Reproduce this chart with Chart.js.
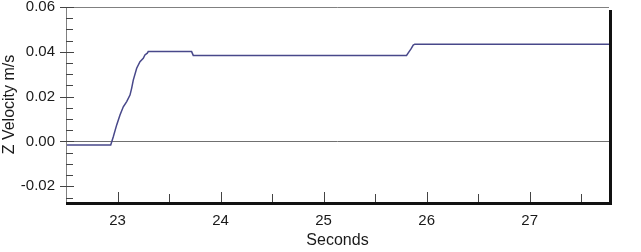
<!DOCTYPE html>
<html>
<head>
<meta charset="utf-8">
<script src="https://cdn.jsdelivr.net/npm/chart.js@4/dist/chart.umd.min.js"></script>
<style>
  html, body { margin: 0; padding: 0; background: #fff; }
  canvas { display: block; }
</style>
</head>
<body>
<canvas id="chart" width="641" height="252"></canvas>
<script>
// z velocity trace
const times = [22.5, 22.934, 22.959, 22.992, 23.024, 23.056, 23.089, 23.121, 23.137, 23.153,
  23.186, 23.218, 23.250, 23.266, 23.289, 23.298, 23.719, 23.735, 25.805, 25.830,
  25.847, 25.870, 25.885, 27.77];
const zVelocity = [-0.0016, -0.0016, 0.0021, 0.0074, 0.0118, 0.0155, 0.0178, 0.0207, 0.0237, 0.0274,
  0.0327, 0.0356, 0.0371, 0.0386, 0.0394, 0.0401, 0.0401, 0.0384, 0.0384, 0.0401,
  0.0412, 0.0430, 0.0434, 0.0434];

const xLabels = [23, 24, 25, 26, 27];
const xMinor = [23.5, 24.5, 25.5, 26.5, 27.5];
const yLabels = [-0.02, 0, 0.02, 0.04, 0.06];
const yMinor = [-0.025, -0.015, -0.01, -0.005, 0.005, 0.01, 0.015, 0.025, 0.03, 0.035, 0.045, 0.05, 0.055];

const isIn = (arr, v) => arr.some(a => Math.abs(a - v) < 1e-9);

const frame = {
  id: 'frame',
  afterDraw(chart) {
    const {ctx, chartArea: a, scales: {x, y}} = chart;
    ctx.save();
    // top + left thin lines
    ctx.strokeStyle = '#808080';
    ctx.lineWidth = 1;
    ctx.beginPath();
    ctx.moveTo(a.left + 0.5, a.bottom);
    ctx.lineTo(a.left + 0.5, a.top + 0.5);
    ctx.lineTo(a.right, a.top + 0.5);
    ctx.stroke();

    // ticks
    ctx.strokeStyle = '#444';
    ctx.beginPath();
    yLabels.forEach(v => {
      const p = Math.round(y.getPixelForValue(v)) + 0.5;
      ctx.moveTo(a.left - 6, p); ctx.lineTo(a.left + 8, p);
    });
    yMinor.forEach(v => {
      const p = Math.round(y.getPixelForValue(v)) + 0.5;
      ctx.moveTo(a.left, p); ctx.lineTo(a.left + 7, p);
    });
    xLabels.forEach(v => {
      const p = Math.round(x.getPixelForValue(v)) + 0.5;
      ctx.moveTo(p, a.bottom + 2); ctx.lineTo(p, a.bottom - 10);
    });
    xMinor.forEach(v => {
      const p = Math.round(x.getPixelForValue(v)) + 0.5;
      ctx.moveTo(p, a.bottom); ctx.lineTo(p, a.bottom - 8);
    });
    ctx.stroke();

    // heavy black bottom / right edge
    ctx.strokeStyle = '#111';
    ctx.lineWidth = 3;
    ctx.beginPath();
    ctx.moveTo(a.left, a.bottom + 1.5);
    ctx.lineTo(a.right + 1.5, a.bottom + 1.5);
    ctx.lineTo(a.right + 1.5, a.top + 3);
    ctx.stroke();
    ctx.restore();
  }
};

new Chart(document.getElementById('chart'), {
  type: 'line',
  data: {
    datasets: [{
      data: times.map((t, i) => ({x: t, y: zVelocity[i]})),
      borderColor: '#48488a',
      borderWidth: 1.5,
      pointRadius: 0,
      tension: 0,
      fill: false
    }]
  },
  options: {
    responsive: false,
    animation: false,
    devicePixelRatio: 1,
    layout: {padding: {top: 7, right: 32, left: 0, bottom: 0}},
    plugins: {legend: {display: false}, tooltip: {enabled: false}},
    scales: {
      x: {
        type: 'linear',
        min: 22.5,
        max: 27.77,
        afterBuildTicks: s => { s.ticks = xLabels.concat(xMinor).sort((p, q) => p - q).map(v => ({value: v})); },
        afterFit: s => { s.height = 50; s.paddingLeft = 0; s.paddingRight = 0; },
        grid: {display: false, drawTicks: false},
        border: {display: false},
        ticks: {
          autoSkip: false,
          maxRotation: 0,
          padding: 10,
          color: '#1a1a1a',
          font: {family: 'Liberation Sans, Arial, sans-serif', size: 15},
          callback: v => isIn(xLabels, v) ? String(Math.round(v)) : ''
        },
        title: {
          display: true,
          text: 'Seconds',
          color: '#1a1a1a',
          font: {family: 'Liberation Sans, Arial, sans-serif', size: 16},
          padding: {top: 0, bottom: 2}
        }
      },
      y: {
        type: 'linear',
        min: -0.027,
        max: 0.06,
        afterBuildTicks: s => { s.ticks = yLabels.concat(yMinor).sort((p, q) => p - q).map(v => ({value: v})); },
        afterFit: s => { s.width = 66; s.paddingTop = 0; s.paddingBottom = 0; },
        grid: {
          drawTicks: false,
          color: c => (c.tick && Math.abs(c.tick.value) < 1e-9) ? '#707070' : 'rgba(0,0,0,0)',
          lineWidth: 1
        },
        border: {display: false},
        ticks: {
          autoSkip: false,
          padding: 11,
          color: '#1a1a1a',
          font: {family: 'Liberation Sans, Arial, sans-serif', size: 15},
          callback: v => isIn(yLabels, v) ? v.toFixed(2) : ''
        },
        title: {
          display: true,
          text: 'Z Velocity m/s',
          color: '#1a1a1a',
          font: {family: 'Liberation Sans, Arial, sans-serif', size: 16},
          padding: {top: 0, bottom: 0}
        }
      }
    }
  },
  plugins: [frame]
});
</script>
</body>
</html>
